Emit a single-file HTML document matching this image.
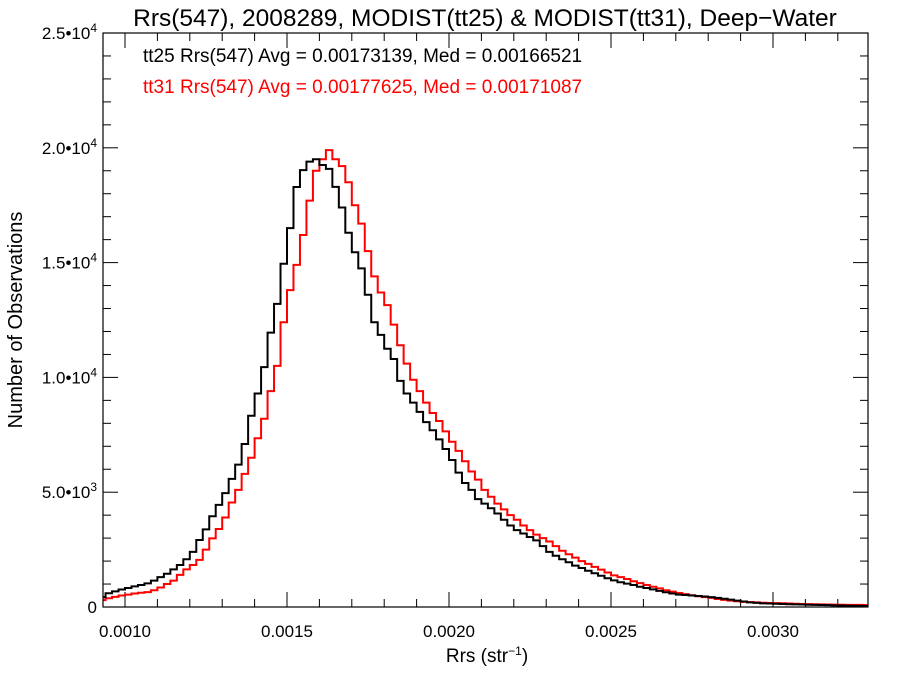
<!DOCTYPE html>
<html><head><meta charset="utf-8"><style>
body{margin:0;background:#fff}
svg{display:block;font-family:"Liberation Sans",Arial,sans-serif}
</style></head><body>
<svg id="chart" width="900" height="675" xmlns="http://www.w3.org/2000/svg">
<defs><clipPath id="pc"><rect x="103" y="33" width="765" height="574"/></clipPath></defs>
<text x="485" y="26" font-size="24.5" text-anchor="middle">Rrs(547), 2008289, MODIST(tt25) &amp; MODIST(tt31), Deep−Water</text>
<text x="143" y="62" font-size="19" fill="#000">tt25 Rrs(547) Avg = 0.00173139, Med = 0.00166521</text>
<text x="143" y="93" font-size="19" fill="#f00">tt31 Rrs(547) Avg = 0.00177625, Med = 0.00171087</text>
<text transform="translate(22,320) rotate(-90)" font-size="20" text-anchor="middle">Number of Observations</text>
<text x="487" y="662" font-size="19" text-anchor="middle">Rrs (str<tspan dy="-7" font-size="12">−1</tspan><tspan dy="7">)</tspan></text>
<g id="axes"></g>
<g id="series" clip-path="url(#pc)"></g>
<rect x="103" y="33" width="765" height="574" fill="none" stroke="#000" stroke-width="1.2"/>
</svg>
<script>
const binStart = 0.00092;
const binWidth = 0.00002;
const tt25Counts = [430,600,680,760,830,900,960,1030,1150,1300,1450,1640,1830,2080,2400,2920,3380,3950,4450,4960,5580,6200,7100,8330,9300,10450,11950,13200,14950,16500,18290,19030,19400,19500,19250,19080,18300,17400,16300,15450,14750,13600,12400,11850,11250,10800,9850,9300,8900,8500,8050,7700,7300,6880,6400,5850,5400,5100,4700,4500,4300,4070,3800,3550,3350,3200,3050,2900,2650,2400,2230,2080,1950,1800,1700,1580,1470,1360,1250,1160,1080,1020,960,880,830,770,700,640,590,540,520,500,480,460,430,400,360,320,280,240,200,180,160,150,140,130,120,115,110,100,90,85,80,70,65,60,55,50,45];
const tt31Counts = [300,380,440,500,540,590,620,650,730,850,1000,1150,1400,1640,1830,2050,2500,2990,3400,3900,4550,5100,5800,6500,7350,8200,9400,10500,12400,13800,14900,16200,17700,19000,19500,19900,19500,19200,18500,17500,16700,15500,14400,13700,13150,12300,11400,10600,9900,9400,8900,8450,8100,7650,7200,6800,6350,5900,5550,5100,4800,4500,4250,4000,3800,3550,3350,3150,3000,2850,2650,2450,2300,2150,2000,1880,1750,1630,1500,1380,1300,1220,1120,1040,960,880,810,730,670,610,560,510,470,430,400,350,310,280,250,225,210,200,185,175,170,165,150,140,130,125,120,115,110,105,100,95,92,90,88];
const xTickValues = [0.0010,0.0015,0.0020,0.0025,0.0030];
const xTickLabels = ["0.0010","0.0015","0.0020","0.0025","0.0030"];
const yTickValues = [0,5000,10000,15000,20000,25000];
const yTickMant = ["0","5.0","1.0","1.5","2.0","2.5"];
const yTickExp = ["","3","4","4","4","4"];

const NS="http://www.w3.org/2000/svg";
const X0=103,X1=868,Y0=607,Y1=33;
const xMin=0.0010-22/324000, xMax=0.0010+(868-125)/324000;
const yMin=0,yMax=25000;
function sx(v){return X0+(v-xMin)/(xMax-xMin)*(X1-X0);}
function sy(v){return Y0-(v-yMin)/(yMax-yMin)*(Y0-Y1);}
function mk(t,a,p){const e=document.createElementNS(NS,t);for(const k in a)e.setAttribute(k,a[k]);p.appendChild(e);return e;}
const axes=document.getElementById('axes');
for(let v=0.0009;v<=0.00335;v+=0.0001){
  const r=Math.round(v*10000)/10000; if(r<xMin||r>xMax)continue;
  const major=Math.abs(r*2000-Math.round(r*2000))<1e-6;
  const L=major?15:8, x=sx(r);
  const t1=mk('line',{x1:x,x2:x,y1:Y0,y2:Y0-L,stroke:'#000','stroke-width':1},axes);
  
  
  const t2=mk('line',{x1:x,x2:x,y1:Y1,y2:Y1+L,stroke:'#000','stroke-width':1},axes);
  
  
}
xTickValues.forEach((v,i)=>{
  const t=mk('text',{x:sx(v),y:Y0+30,'font-size':17,'text-anchor':'middle'},axes);
  t.textContent=xTickLabels[i];
  
  
});
for(let v=0;v<=25000;v+=1000){
  const major=v%5000===0, L=major?15:8, y=sy(v);
  const t1=mk('line',{x1:X0,x2:X0+L,y1:y,y2:y,stroke:'#000','stroke-width':1},axes);
  
  
  const t2=mk('line',{x1:X1,x2:X1-L,y1:y,y2:y,stroke:'#000','stroke-width':1},axes);
  
  
}
yTickValues.forEach((v,i)=>{
  const t=mk('text',{x:X0-6,y:sy(v)+6,'font-size':17,'text-anchor':'end'},axes);
  
  
  if(yTickExp[i]){
    t.appendChild(document.createTextNode(yTickMant[i]+'•10'));
    const s=document.createElementNS(NS,'tspan');s.setAttribute('dy','-7');s.setAttribute('font-size','12');s.textContent=yTickExp[i];t.appendChild(s);
  } else t.textContent=yTickMant[i];
});
const ser=document.getElementById('series');
function draw(counts,color,name){
  let d='';
  counts.forEach((c,i)=>{
    const xa=sx(binStart+i*binWidth), xb=sx(binStart+(i+1)*binWidth), y=sy(c);
    d+=(i===0?'M':'L')+xa.toFixed(2)+','+y.toFixed(2)+'L'+xb.toFixed(2)+','+y.toFixed(2);
  });
  const p=mk('path',{d:d,fill:'none',stroke:color,'stroke-width':2},ser);
  
  
}
draw(tt31Counts,'#f00','tt31-histogram');
draw(tt25Counts,'#000','tt25-histogram');
</script>
</body></html>
